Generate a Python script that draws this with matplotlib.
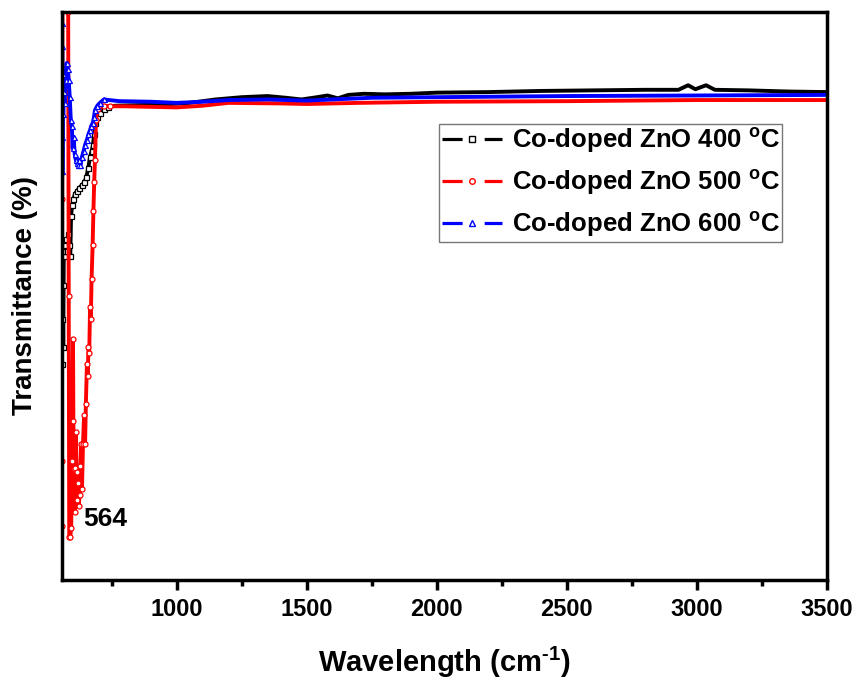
import numpy as np
import matplotlib
matplotlib.use('Agg')
import matplotlib.pyplot as plt
from matplotlib.lines import Line2D
from matplotlib.ticker import MultipleLocator

plt.rcParams['font.family'] = ['Liberation Sans', 'DejaVu Sans']
plt.rcParams['font.weight'] = 'bold'
plt.rcParams['mathtext.fontset'] = 'custom'
plt.rcParams['mathtext.rm'] = 'Liberation Sans:bold'
plt.rcParams['mathtext.bf'] = 'Liberation Sans:bold'
plt.rcParams['mathtext.it'] = 'Liberation Sans:bold'

# FTIR spectra (wavenumber cm-1, transmittance %)
wn_400 = [558, 560, 562, 564, 566, 569, 572, 576, 580, 584, 588, 591, 594, 598,
          603, 609, 617, 625, 635, 645, 653, 660, 667, 673, 678, 683, 688, 695,
          705, 720, 735, 765,
          850, 950, 1050, 1150, 1250, 1350, 1420, 1480, 1540, 1580, 1620, 1660,
          1720, 1800, 1900, 2000, 2200, 2400, 2600, 2800, 2930, 2967, 2995, 3036,
          3070, 3200, 3350, 3500]
tr_400 = [38, 46, 52, 41, 57, 59, 58, 60, 58, 61, 59, 57, 64, 66,
          67, 68, 68.5, 69, 69.5, 70, 71, 72.5, 74.5, 75.5, 76.5, 78.5, 80.5, 81.5,
          82.3, 83, 83.3, 83.5,
          83.6, 83.7, 84.0, 84.6, 85.0, 85.2, 84.9, 84.6, 85.0, 85.3, 84.8, 85.4,
          85.6, 85.5, 85.6, 85.8, 85.9, 86.1, 86.2, 86.3, 86.3, 87.1, 86.4, 87.1,
          86.3, 86.2, 86.0, 85.9]

wn_500 = [558, 559, 560, 561, 565, 570, 575, 580, 583, 585, 587, 591, 594.5, 598,
          601.5, 603, 605, 609, 611, 613, 615, 617, 620, 623, 627, 630, 633, 636,
          640, 644, 648, 651, 655, 658, 661, 664, 667, 670, 673, 677, 680, 683,
          686, 690, 696, 705, 720, 745,
          800, 900, 1000, 1100, 1200, 1400, 1500, 1700, 2000, 2500, 3000, 3500]
tr_500 = [9.5, 21, 67, 110, 110, 110, 110, 110, 100, 50, 7.6, 7.6, 9.2, 21,
          42.4, 28, 19.5, 12, 19.7, 26, 19, 14, 17, 13, 15, 20, 24, 16,
          24, 29, 24, 31, 38, 36, 41, 40, 48, 46, 53, 59, 65, 70,
          74, 81, 83, 83.6, 83.5, 83.4,
          83.4, 83.3, 83.2, 83.5, 84.0, 83.9, 83.8, 84.0, 84.2, 84.3, 84.5, 84.5]

wn_600 = [558, 559, 560, 561, 562.5, 564, 566, 569, 573, 577, 581, 585, 589, 593,
          597, 600, 604, 608, 612, 616, 620, 625, 630, 636, 642, 648, 655, 661,
          667, 672, 678, 682, 686, 695, 705, 720,
          780, 900, 1000, 1100, 1200, 1350, 1500, 1600, 1750, 2000, 2500, 3000, 3500]
tr_600 = [98, 78, 94, 72, 89, 82, 86, 84, 88, 91, 90, 88, 85, 81,
          80, 76, 78, 75, 74, 73.5, 73, 74, 73, 74.5, 75.5, 76.6, 77.5, 78.5,
          79.2, 80, 80.5, 81.5, 82.7, 83.5, 84, 84.6,
          84.3, 84.2, 84.0, 84.2, 84.5, 84.6, 84.4, 84.6, 84.9, 85.0, 85.2, 85.3, 85.4]

labels = ['Co-doped ZnO 400 $^{\\rm o}$C',
          'Co-doped ZnO 500 $^{\\rm o}$C',
          'Co-doped ZnO 600 $^{\\rm o}$C']
colors = ['black', 'red', 'blue']
markers = ['s', 'o', '^']

fig = plt.figure(figsize=(8.58, 6.89), dpi=100)
ax = fig.add_axes([0.0719, 0.1582, 0.8916, 0.8244])

LW = 2.8
handles = []
for wn, tr, c, m in zip([wn_400, wn_500, wn_600], [tr_400, tr_500, tr_600],
                        colors, markers):
    wn = np.array(wn)
    ax.plot(wn, tr, color=c, lw=LW, marker=m, markersize=3.6, mfc='white',
            mec=c, mew=0.9, markevery=list(wn < 760))
    # legend sample: line - gap - marker - gap - line
    seg = Line2D([], [], color=c, lw=2.3, linestyle=(0, (6.3, 6.9)))
    mk = Line2D([], [], color=c, lw=0, marker=m, markersize=4, mfc='white',
                mec=c, mew=1.0)
    handles.append((seg, mk))

ax.text(642, 10.7, '564', fontsize=19, fontweight='bold', ha='left', va='center')

ax.set_xlim(558, 3500)
ax.set_ylim(0, 100)
ax.xaxis.set_minor_locator(MultipleLocator(250))
ax.set_xticks([1000, 1500, 2000, 2500, 3000, 3500])
ax.set_yticks([])
ax.tick_params(axis='x', which='major', direction='out', length=7, width=2.5,
               labelsize=17, pad=6)
ax.tick_params(axis='x', which='minor', direction='out', length=4, width=2.5)
for lbl in ax.get_xticklabels():
    lbl.set_fontweight('bold')
for sp in ax.spines.values():
    sp.set_linewidth(2.5)

ax.set_xlabel('Wavelength (cm$^{\\text{-1}}$)', fontsize=21, fontweight='bold')
ax.set_ylabel('Transmittance (%)', fontsize=20, fontweight='bold')
ax.xaxis.set_label_coords(0.5, -0.114)
ax.yaxis.set_label_coords(-0.031, 0.5)

leg = ax.legend(handles, labels, loc='upper left', bbox_to_anchor=(0.4936, 0.803),
                borderaxespad=0, fontsize=18.5, frameon=True, fancybox=False,
                handlelength=2.34, handletextpad=0.39, labelspacing=0.5,
                borderpad=0.1)
leg.get_frame().set_edgecolor('#555555')
leg.get_frame().set_linewidth(1.0)

fig.savefig('out.png', dpi=100)
